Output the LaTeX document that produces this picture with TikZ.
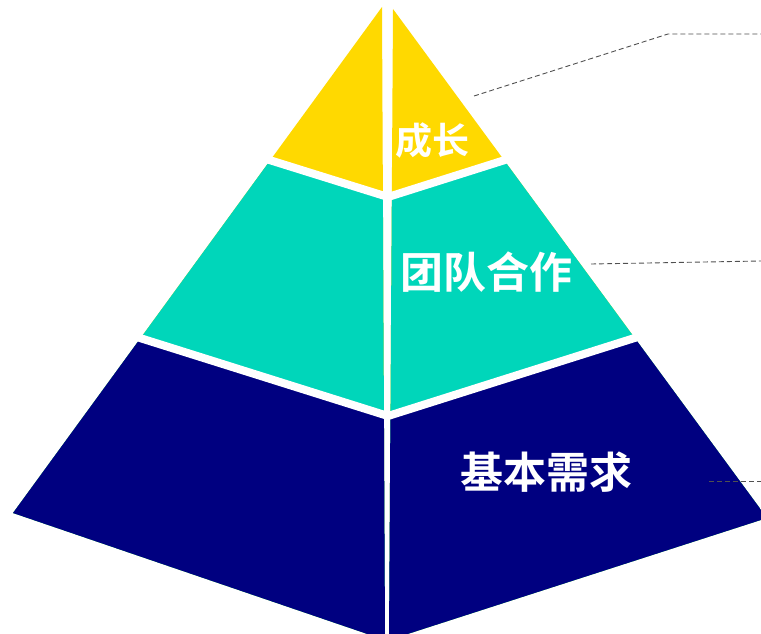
\documentclass[tikz,border=0pt]{standalone}
\usepackage{fontspec}
\newfontfamily\cjk{Noto Sans CJK SC Bold}
\definecolor{pyYellow}{RGB}{255,217,0}
\definecolor{pyTeal}{RGB}{0,214,186}
\definecolor{pyNavy}{RGB}{0,0,128}
\definecolor{leader}{RGB}{80,80,80}
\tikzset{
  lbl/.style={text=white, inner sep=0pt},
  cutline/.style={white, line width=8pt},
  leaderline/.style={leader, line width=0.9pt, dash pattern=on 5pt off 3pt},
}
\begin{document}
\begin{tikzpicture}[x=1pt,y=-1pt]
\useasboundingbox (0,0) rectangle (761,634);
\begin{scope}
\clip (0,0) rectangle (761,634);
% left face
\begin{scope}
\clip (382,7) -- (13,513) -- (385,640) -- cycle;
\fill[pyYellow] (0,0) rectangle (761,640);
\fill[pyTeal] (0,76) -- (388,197) -- (761,79) -- (761,640) -- (0,640) -- cycle;
\fill[pyNavy] (0,294) -- (388,416) -- (761,298) -- (761,640) -- (0,640) -- cycle;
\end{scope}
% right face
\begin{scope}
\clip (393,9) -- (389,640) -- (767,518) -- cycle;
\fill[pyYellow] (0,0) rectangle (780,640);
\fill[pyTeal] (0,76) -- (388,197) -- (780,73) -- (780,640) -- (0,640) -- cycle;
\fill[pyNavy] (0,294) -- (388,416) -- (780,292) -- (780,640) -- (0,640) -- cycle;
\end{scope}
% white gaps between levels
\draw[cutline] (0,76) -- (388,197) -- (780,73);
\draw[cutline] (0,294) -- (388,416) -- (780,292);
\end{scope}
% labels
\node[lbl, font=\cjk\fontsize{37}{40}\selectfont] (growth) at (432,140) {成长};
\node[lbl, font=\cjk\fontsize{43}{46}\selectfont] (team) at (486,272) {团队合作};
\node[lbl, font=\cjk\fontsize{43}{46}\selectfont] (basic) at (546,472) {基本需求};
% leader lines
\coordinate (g1) at (474,96);
\coordinate (g2) at (668,34);
\coordinate (g3) at (761,34);
\coordinate (t1) at (591,264);
\coordinate (t2) at (761,261);
\coordinate (b1) at (709,481);
\coordinate (b2) at (761,481);
\draw[leaderline] (g1) -- (g2) -- (g3);
\draw[leaderline] (t1) -- (t2);
\draw[leaderline] (b1) -- (b2);
\end{tikzpicture}
\end{document}
